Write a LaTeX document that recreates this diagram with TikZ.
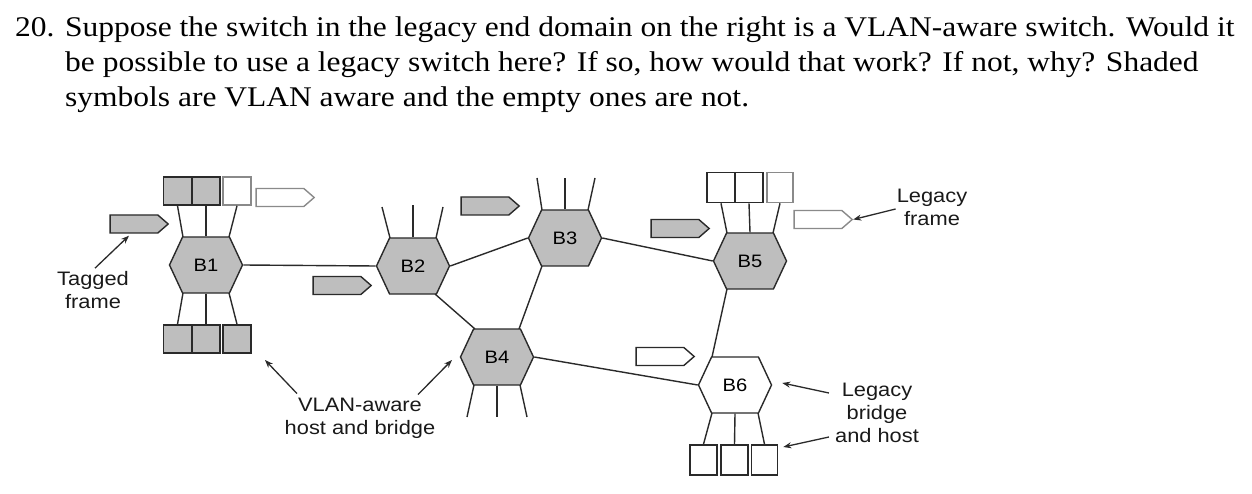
\documentclass[tikz,border=0pt]{standalone}
\usepackage{fontspec}
\setmainfont{Liberation Serif}
\setsansfont{Liberation Sans}
\newfontfamily\titlefont[FakeStretch=1.105]{Liberation Serif}
\newfontfamily\labelfont[FakeStretch=1.12]{Liberation Sans}
\usetikzlibrary{shapes.symbols,calc,arrows.meta}
\definecolor{shade}{HTML}{BEBEBE}
\definecolor{ink}{HTML}{2A2A2A}
\definecolor{pale}{HTML}{8A8A8A}
\begin{document}
\begin{tikzpicture}[x=1pt,y=-1pt,
  title/.style={anchor=base west,inner sep=0pt,font=\titlefont\fontsize{28.5}{35}\selectfont},
  hex/.style={signal,signal to=west and east,signal pointer angle=130,
    minimum width=73pt,minimum height=56pt,inner sep=0pt,draw=ink,line width=1.4pt,
    font=\labelfont\fontsize{18}{20}\selectfont},
  vhex/.style={hex,fill=shade},
  lhex/.style={hex,fill=white},
  box/.style={rectangle,minimum width=28pt,minimum height=28pt,inner sep=0pt,draw=ink,line width=1.6pt},
  vbox/.style={box,fill=shade},
  lbox/.style={box,fill=white},
  pbox/.style={box,fill=white,draw=pale},
  frm/.style={signal,signal to=east,signal pointer angle=82,minimum width=58pt,
    minimum height=18pt,inner sep=0pt,line width=1.4pt},
  vfrm/.style={frm,fill=shade,draw=ink},
  lfrm/.style={frm,fill=white,draw=ink},
  pfrm/.style={frm,fill=white,draw=pale},
  link/.style={draw=ink,line width=1.4pt},
  spoke/.style={draw=ink,line width=1.4pt},
  lbl/.style={align=center,inner sep=0pt,text=black!90,font=\labelfont\fontsize{19.5}{23}\selectfont},
  arr/.style={draw=ink,line width=1.3pt,-{Stealth[length=8pt,width=6pt]}}]
\useasboundingbox (0,0) rectangle (1252,494);
% title
\node[title] (t1) at (15,37) {20. Suppose the switch in the legacy end domain on the right is a VLAN-aware switch. Would it};
\node[title] (t2) at (65,72) {be possible to use a legacy switch here? If so, how would that work? If not, why? Shaded};
\node[title] (t3) at (65,107) {symbols are VLAN aware and the empty ones are not.};
% bridges
\node[vhex] (B1) at (206,265) {B1};
\node[vhex] (B2) at (413,266) {B2};
\node[vhex] (B3) at (565,238) {B3};
\node[vhex] (B4) at (497,357) {B4};
\node[vhex] (B5) at (750,261) {B5};
\node[lhex] (B6) at (735,385) {B6};
% links between bridges
\draw[link] (B1.east) -- (B2.west);
\draw[link] (B2.east) -- (B3.west);
\draw[link] ($(B2.center)+(22,28)$) -- ($(B4.center)+(-22,-28)$);
\draw[link] ($(B3.center)+(-23,28)$) -- ($(B4.center)+(22,-28)$);
\draw[link] (B3.east) -- (B5.west);
\draw[link] (B4.east) -- (B6.west);
\draw[link] ($(B5.center)+(-23,28)$) -- ($(B6.center)+(-23,-28)$);
% hosts of B1
\node[vbox] (b1t1) at (177.5,191) {};
\node[vbox] (b1t2) at (206,191) {};
\node[pbox] (b1t3) at (237,191) {};
\node[vbox] (b1b1) at (177.5,339) {};
\node[vbox] (b1b2) at (206,339) {};
\node[vbox] (b1b3) at (237,339) {};
\draw[spoke] ($(B1.center)+(-23,-28)$) -- (b1t1.south);
\draw[spoke] (B1.north) -- (b1t2.south);
\draw[spoke] ($(B1.center)+(23,-28)$) -- (b1t3.south);
\draw[spoke] ($(B1.center)+(-23,28)$) -- (b1b1.north);
\draw[spoke] (B1.south) -- (b1b2.north);
\draw[spoke] ($(B1.center)+(23,28)$) -- (b1b3.north);
% free spokes of B2, B3, B4
\coordinate (s2a) at (382,207);
\coordinate (s2b) at (413,205);
\coordinate (s2c) at (443,207);
\draw[spoke] ($(B2.center)+(-23,-28)$) -- (s2a);
\draw[spoke] (B2.north) -- (s2b);
\draw[spoke] ($(B2.center)+(23,-28)$) -- (s2c);
\coordinate (s3a) at (537,178);
\coordinate (s3b) at (565,178);
\coordinate (s3c) at (595,178);
\draw[spoke] ($(B3.center)+(-23,-28)$) -- (s3a);
\draw[spoke] (B3.north) -- (s3b);
\draw[spoke] ($(B3.center)+(23,-28)$) -- (s3c);
\coordinate (s4a) at (467,417);
\coordinate (s4b) at (497,417);
\coordinate (s4c) at (527,417);
\draw[spoke] ($(B4.center)+(-23,28)$) -- (s4a);
\draw[spoke] (B4.south) -- (s4b);
\draw[spoke] ($(B4.center)+(23,28)$) -- (s4c);
% hosts of B5
\node[lbox,minimum height=30pt] (b5t1) at (721,187.5) {};
\node[lbox,minimum height=30pt] (b5t2) at (749,187.5) {};
\node[pbox,minimum height=30pt,minimum width=26pt] (b5t3) at (780,187.5) {};
\draw[spoke] ($(B5.center)+(-23,-28)$) -- (b5t1.south);
\draw[spoke] (B5.north) -- (b5t2.south);
\draw[spoke] ($(B5.center)+(23,-28)$) -- (b5t3.south);
% hosts of B6
\node[lbox,minimum height=30pt,minimum width=27pt] (b6b1) at (703.5,460) {};
\node[lbox,minimum height=30pt,minimum width=27pt] (b6b2) at (734.5,460) {};
\node[lbox,minimum height=30pt,minimum width=26pt] (b6b3) at (764.5,460) {};
\draw[spoke] ($(B6.center)+(-23,28)$) -- (b6b1.north);
\draw[spoke] (B6.south) -- (b6b2.north);
\draw[spoke] ($(B6.center)+(23,28)$) -- (b6b3.north);
% frames
\node[pfrm] (F1) at (280,197.5) {};
\node[vfrm] (F2) at (134,224) {};
\node[vfrm] (F3) at (337,285.5) {};
\node[vfrm] (F4) at (485,206) {};
\node[vfrm] (F5) at (675,228.5) {};
\node[pfrm] (F6) at (818,219.5) {};
\node[lfrm] (F7) at (660,356.5) {};
% labels
\node[lbl] (tagged) at (93,290) {Tagged\\frame};
\node[lbl] (legf) at (932,207) {Legacy\\frame};
\node[lbl] (vlan) at (360,418) {VLAN-aware\\host and bridge};
\node[lbl] (legb) at (877,413) {Legacy\\bridge\\and host};
\draw[arr] ($(tagged.north)+(2,-3)$) -- ($(F2.south)+(-5,2)$);
\draw[arr] ($(legf.west)+(-1,2)$) -- (F6.east);
\coordinate (vA) at (265,360);
\coordinate (vB) at (452,360);
\draw[arr] ($(vlan.north)+(-63,-4)$) -- (vA);
\draw[arr] ($(vlan.north)+(58,-3)$) -- (vB);
\draw[arr] ($(legb.west)+(-6,-20)$) -- ($(B6.east)+(10,-2)$);
\draw[arr] ($(legb.west)+(-6,24)$) -- ($(b6b3.east)+(5,-13)$);
\end{tikzpicture}
\end{document}
